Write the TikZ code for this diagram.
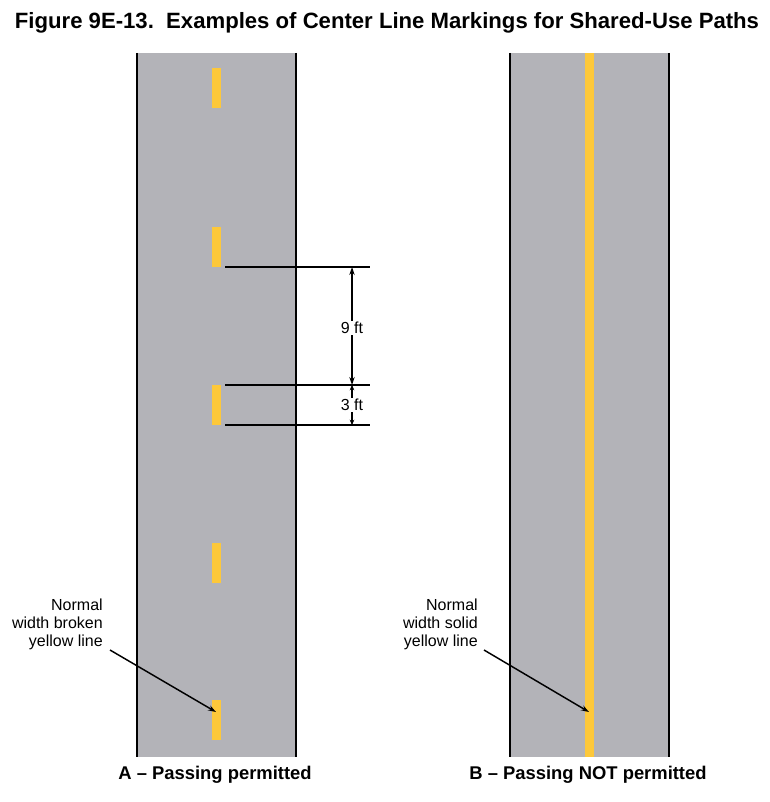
\documentclass[tikz,border=0pt]{standalone}
\usepackage{fontspec}
\setmainfont{Liberation Sans}
\usetikzlibrary{arrows.meta}
\definecolor{road}{HTML}{B3B3B8}
\definecolor{ylw}{HTML}{FDC83A}
\begin{document}
\begin{tikzpicture}[x=0.75pt,y=-0.75pt,
  edge/.style={line width=1.8pt,black},
  ydash/.style={fill=ylw,draw=none},
  dim/.style={line width=1.1pt},
  lbl/.style={font=\fontsize{12}{13.5}\selectfont,align=right,inner sep=0pt},
  captxt/.style={font=\bfseries\fontsize{13.8}{16}\selectfont,inner sep=0pt},
  pt/.style={-{Stealth[length=6pt,width=4pt]},line width=1.1pt}]
\useasboundingbox (0,0) rectangle (769,802);
\node[font=\bfseries\fontsize{16.6}{19}\selectfont,inner sep=0pt] (title) at (387,23) {Figure 9E-13.\ \ Examples of Center Line Markings for Shared-Use Paths};
% road A
\fill[road] (137,53) rectangle (296,757);
\draw[edge] (137,53) -- (137,757);
\draw[edge] (296,53) -- (296,757);
\foreach \y in {68,227,385,543,700} \fill[ydash] (212,\y) rectangle (221,\y+40);
% road B
\fill[road] (510,53) rectangle (669,757);
\draw[edge] (510,53) -- (510,757);
\draw[edge] (669,53) -- (669,757);
\fill[ydash] (585,53) rectangle (594,757);
% dimensions
\coordinate (d1) at (352,267); \coordinate (d2) at (352,385); \coordinate (d3) at (352,425);
\draw[dim] (225,267) -- (370,267);
\draw[dim] (225,385) -- (370,385);
\draw[dim] (225,425) -- (370,425);
\node[lbl,fill=white,inner sep=1pt] (n9) at (352,328) {9 ft};
\node[lbl,fill=white,inner sep=1pt] (n3) at (352,405) {3 ft};
\draw[pt] (n9.north) -- (d1);
\draw[pt] (n9.south) -- (d2);
\draw[-{Stealth[length=4pt,width=3.5pt]},line width=1.1pt] (n3.north) -- (d2);
\draw[-{Stealth[length=4pt,width=3.5pt]},line width=1.1pt] (n3.south) -- (d3);
% labels
\node[lbl,anchor=north east] (la) at (103,599) {Normal\\width broken\\yellow line};
\node[lbl,anchor=north east] (lb) at (478,599) {Normal\\width solid\\yellow line};
\coordinate (ta) at (216,712); \coordinate (tb) at (589,712);
\draw[pt] (110,650) -- (ta);
\draw[pt] (484,650) -- (tb);
\node[captxt] (ca) at (215,775) {A – Passing permitted};
\node[captxt] (cb) at (588,775) {B – Passing NOT permitted};
\end{tikzpicture}
\end{document}
